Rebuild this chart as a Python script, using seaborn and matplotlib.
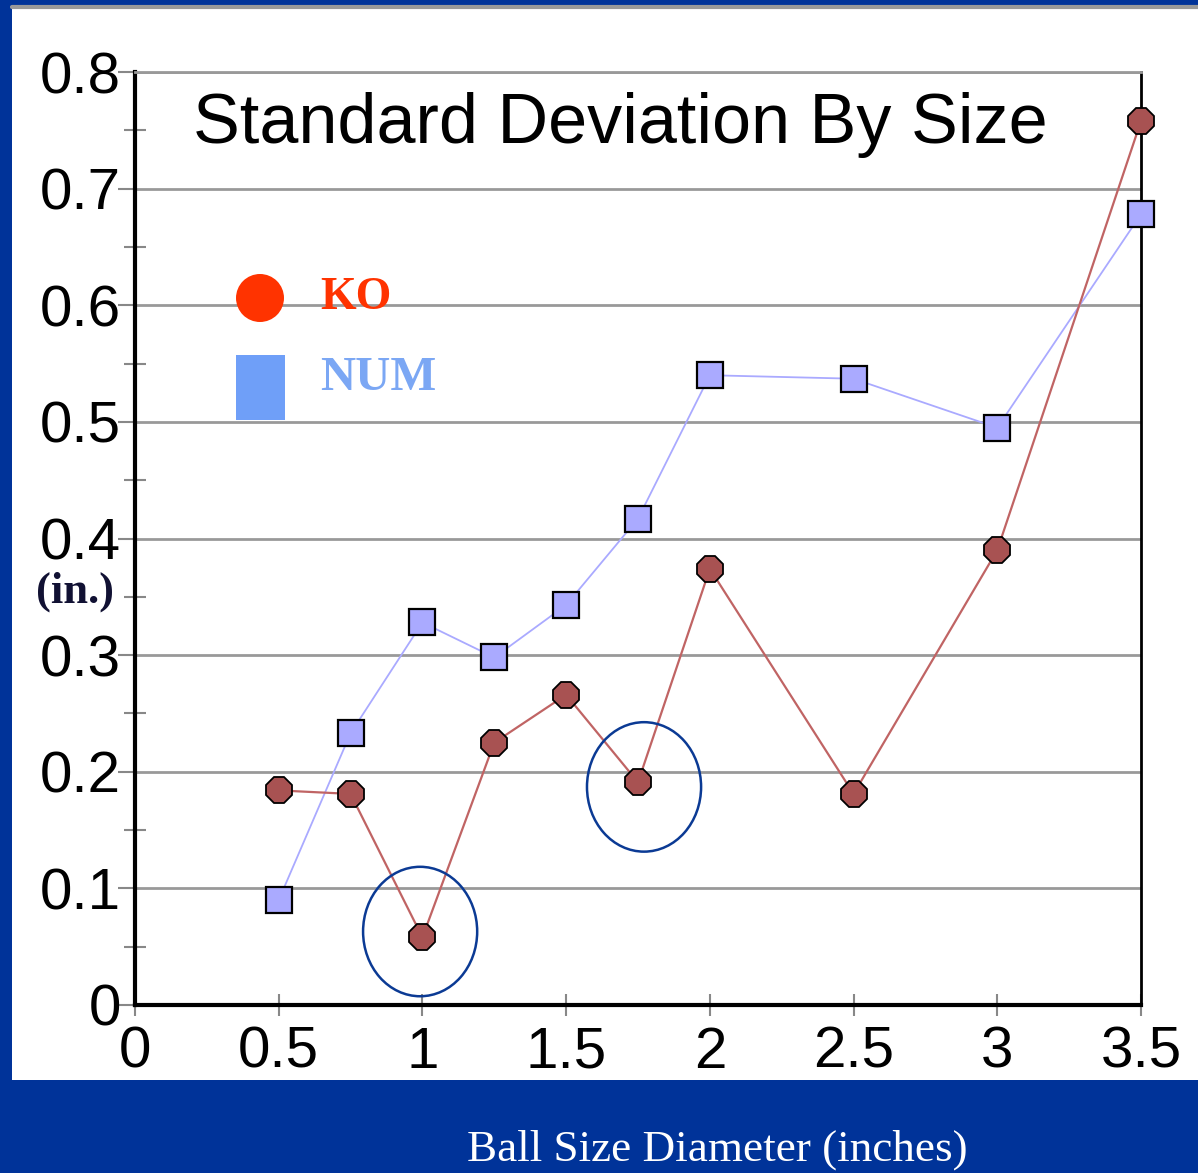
import matplotlib
matplotlib.use("Agg")
import matplotlib.pyplot as plt
import seaborn as sns
import pandas as pd
from matplotlib.patches import Rectangle, Ellipse
from matplotlib.ticker import MultipleLocator

# ---- data ----
ball_size = [0.5, 0.75, 1.0, 1.25, 1.5, 1.75, 2.0, 2.5, 3.0, 3.5]
ko_sd = [0.184, 0.181, 0.058, 0.225, 0.266, 0.191, 0.374, 0.181, 0.390, 0.758]
num_sd = [0.090, 0.233, 0.328, 0.298, 0.343, 0.417, 0.540, 0.537, 0.495, 0.678]
x_ticks = [0, 0.5, 1, 1.5, 2, 2.5, 3, 3.5]
x_tick_labels = ["0", "0.5", "1", "1.5", "2", "2.5", "3", "3.5"]
y_ticks = [0, 0.1, 0.2, 0.3, 0.4, 0.5, 0.6, 0.7, 0.8]
y_tick_labels = ["0", "0.1", "0.2", "0.3", "0.4", "0.5", "0.6", "0.7", "0.8"]
circled = [(0.992, 0.063), (1.771, 0.187)]

df = pd.DataFrame({"size": ball_size, "KO": ko_sd, "NUM": num_sd})

sns.set_style("white")
plt.rcParams["font.family"] = ["Liberation Sans", "DejaVu Sans"]

W, H = 1198, 1173
fig = plt.figure(figsize=(W / 100, H / 100), dpi=100)
fig.patch.set_facecolor("#003399")

# white panel
fig.patches.append(Rectangle((12 / W, 1 - 1080 / H), (1198 - 12) / W, (1080 - 8) / H,
                             transform=fig.transFigure, facecolor="white",
                             edgecolor="none", zorder=-5))
fig.add_artist(plt.Line2D([12 / W, 1], [1 - 7 / H, 1 - 7 / H], transform=fig.transFigure,
                          color="#999999", lw=3, zorder=-4))

ax = fig.add_axes([135 / W, 1 - 1005 / H, (1141 - 135) / W, (1005 - 72) / H])
ax.set_facecolor("none")

sns.lineplot(data=df, x="size", y="NUM", ax=ax, color="#AAAAFF", lw=1.3,
             marker="s", markersize=19, markerfacecolor="#AAAAFF",
             markeredgecolor="black", markeredgewidth=1.6, zorder=3, clip_on=False)
sns.lineplot(data=df, x="size", y="KO", ax=ax, color="#C06464", lw=1.6,
             marker="8", markersize=20, markerfacecolor="#A85252",
             markeredgecolor="black", markeredgewidth=1.3, zorder=4, clip_on=False)

ax.set_xlim(0, 3.5)
ax.set_ylim(0, 0.8)
ax.set_xticks(x_ticks)
ax.set_xticklabels(x_tick_labels)
ax.set_yticks(y_ticks)
ax.set_yticklabels(y_tick_labels)
ax.yaxis.set_minor_locator(MultipleLocator(0.05))
ax.set_xlabel("")
ax.set_ylabel("")

ax.grid(axis="y", color="#999999", lw=2)
ax.grid(axis="x", visible=False)
ax.set_axisbelow(True)
for s in ["left", "bottom"]:
    ax.spines[s].set_color("black")
    ax.spines[s].set_linewidth(3)
ax.spines["right"].set_color("black")
ax.spines["right"].set_linewidth(2)
ax.spines["top"].set_color("#999999")
ax.spines["top"].set_linewidth(2)

ax.tick_params(axis="y", which="major", direction="out", length=12, width=1.5,
               color="#888888", labelsize=42, labelcolor="black", pad=-2, left=True)
ax.tick_params(axis="y", which="minor", direction="inout", length=16, width=1.5,
               color="#888888", left=True)
ax.tick_params(axis="x", which="major", direction="inout", length=16, width=1.5,
               color="#888888", labelsize=42, labelcolor="black", pad=7, bottom=True)

for cx, cy in circled:
    ax.add_patch(Ellipse((cx, cy), 0.397, 0.111, facecolor="none",
                         edgecolor="#0B3A94", lw=1.8, zorder=5, clip_on=False))

fig.text(620 / W, 1 - 125 / H, "Standard Deviation By Size",
         ha="center", va="center", fontsize=50.5, color="black")

serif = ["Liberation Serif", "DejaVu Serif"]
# y unit label
fig.text(75 / W, 1 - 592 / H, "(in.)", ha="center", va="center",
         fontsize=32, fontweight="bold", color="#111133", family=serif)

# manual legend
fig.patches.append(Ellipse((260 / W, 1 - 298 / H), 48 / W, 48 / H,
                           transform=fig.transFigure, facecolor="#FF3300",
                           edgecolor="none", zorder=6))
fig.patches.append(Rectangle((236 / W, 1 - 420 / H), 49 / W, 65 / H,
                             transform=fig.transFigure, facecolor="#6F9FF8",
                             edgecolor="none", zorder=6))
fig.text(320 / W, 1 - 298 / H, "KO", ha="left", va="center", fontsize=33,
         fontweight="bold", color="#FF3300", family=serif)
fig.text(320 / W, 1 - 378 / H, "NUM", ha="left", va="center", fontsize=35,
         fontweight="bold", color="#7BA7F4", family=serif)

fig.text(717 / W, 1 - 1150 / H, "Ball Size Diameter (inches)", ha="center",
         va="center", fontsize=32.5, color="white", family=serif)

fig.savefig("out.png", dpi=100, facecolor=fig.get_facecolor())
